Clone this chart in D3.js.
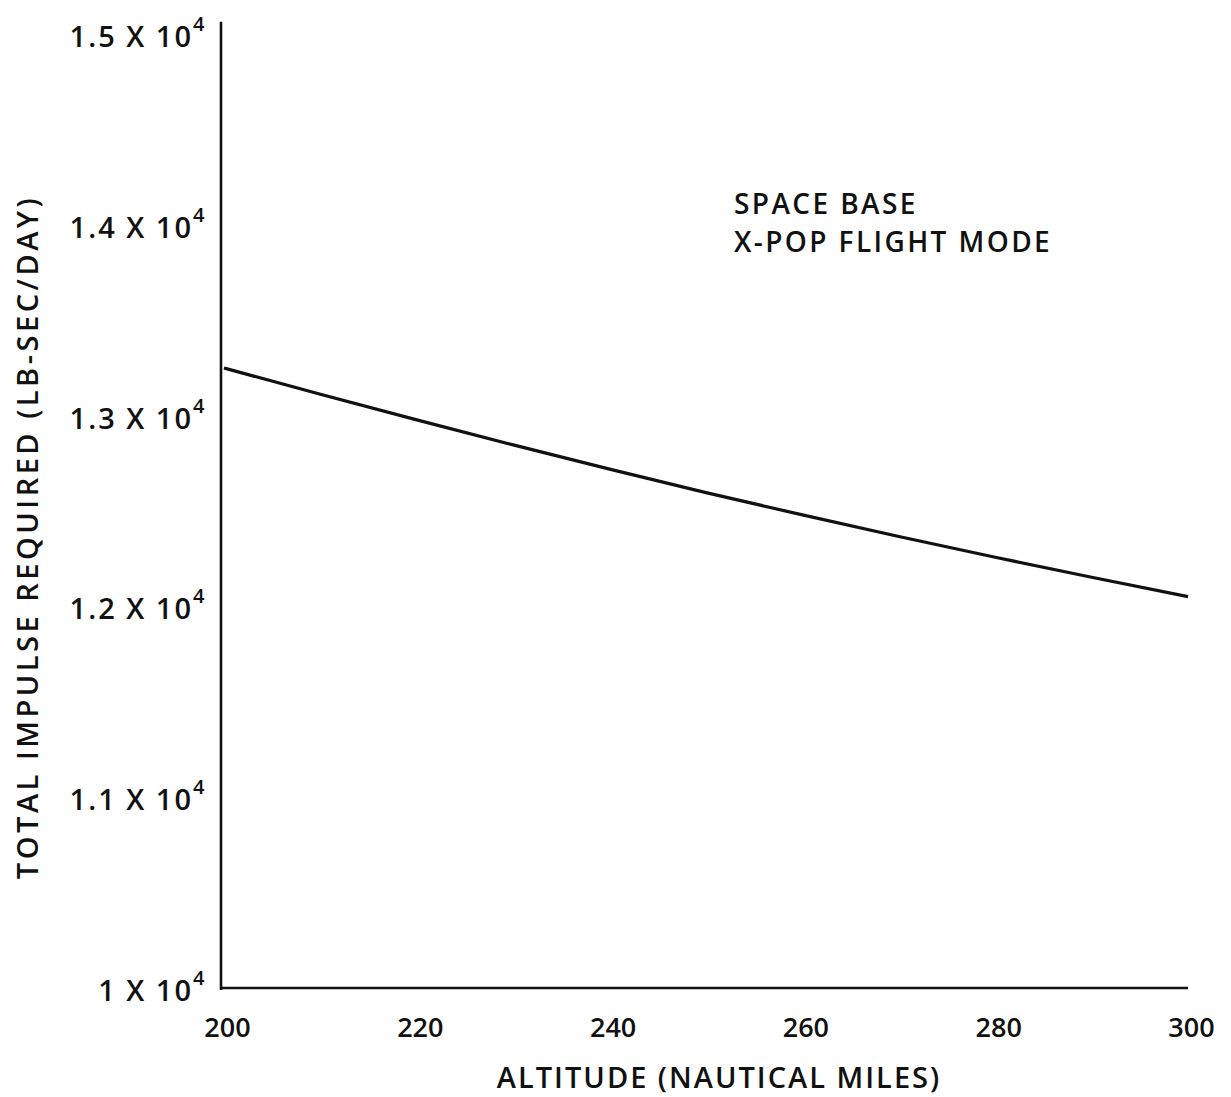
<!DOCTYPE html>
<html>
<head>
<meta charset="utf-8">
<script src="https://cdn.jsdelivr.net/npm/d3@7"></script>
<style>
  html, body { margin: 0; padding: 0; background: #fff; }
  svg { display: block; }
  text { font-family: "Open Sans", Lato, sans-serif; fill: #111; font-weight: 600; }
</style>
</head>
<body>
<svg id="chart" width="1231" height="1097"></svg>
<script>
// Altitude (nautical miles) and total impulse required (lb-sec/day)
const altitudes = [200, 210, 220, 230, 240, 250, 260, 270, 280, 290, 300];
const impulse   = [13260, 13122, 12988, 12857, 12730, 12607, 12490, 12377, 12268, 12163, 12062];

const xTicks = [200, 220, 240, 260, 280, 300];
const yTicks = [10000, 11000, 12000, 13000, 14000, 15000];
const yTickMantissa = ["1", "1.1", "1.2", "1.3", "1.4", "1.5"];
const yAxisTopValue = 15075;   // vertical axis rule runs a little past the top tick

const xTitle = "ALTITUDE (NAUTICAL MILES)";
const yTitle = "TOTAL IMPULSE REQUIRED (LB-SEC/DAY)";
const noteLines = ["SPACE BASE", "X-POP FLIGHT MODE"];

const svg = d3.select("#chart");

const x = d3.scaleLinear().domain([200, 300]).range([224, 1188]);
const y = d3.scaleLinear().domain([10000, 15000]).range([990, 36]);

// Axis rules
svg.append("line")
  .attr("x1", x(200) - 3).attr("x2", x(200) - 3)
  .attr("y1", y(yAxisTopValue)).attr("y2", y(10000))
  .attr("stroke", "#111").attr("stroke-width", 2.6);
svg.append("line")
  .attr("x1", x(200) - 3).attr("x2", x(300))
  .attr("y1", y(10000) - 2).attr("y2", y(10000) - 2)
  .attr("stroke", "#111").attr("stroke-width", 2.6);

// Bottom axis labels (no tick marks)
const xAxis = d3.axisBottom(x).tickValues(xTicks).tickSize(0).tickPadding(0).tickFormat(d3.format("d"));
const gx = svg.append("g").attr("transform", `translate(3,${y(10000)})`).call(xAxis);
gx.select(".domain").remove();
gx.selectAll("text")
  .attr("dy", null).attr("y", 47)
  .style("font-size", "27px")
  .style("font-weight", "600")
  .style("font-family", "'Open Sans', Lato, sans-serif")
  .attr("fill", "#111");

// Left axis labels in "m X 10^4" form
const gy = svg.append("g");
yTicks.forEach((v, i) => {
  gy.append("text")
    .attr("x", 193).attr("y", y(v) + 11)
    .attr("text-anchor", "end")
    .style("font-size", "29px")
    .style("letter-spacing", "2px")
    .text(yTickMantissa[i] + " X 10");
  gy.append("text")
    .attr("x", 193).attr("y", y(v) - 5)
    .style("font-size", "20px")
    .text("4");
});

// Impulse curve
const line = d3.line().x((d, i) => x(altitudes[i])).y(d => y(d)).curve(d3.curveMonotoneX);
svg.append("path")
  .datum(impulse)
  .attr("d", line)
  .attr("fill", "none")
  .attr("stroke", "#111")
  .attr("stroke-width", 3.2)
  .attr("stroke-linejoin", "round");

// Annotation
noteLines.forEach((s, i) => {
  svg.append("text")
    .attr("x", 734).attr("y", 214 + i * 38)
    .style("font-size", "28px")
    .style("letter-spacing", "2.4px")
    .text(s);
});

// Axis titles
svg.append("text")
  .attr("x", 719).attr("y", 1088)
  .attr("text-anchor", "middle")
  .style("font-size", "29px")
  .style("letter-spacing", "2px")
  .text(xTitle);

svg.append("text")
  .attr("transform", "translate(38,537) rotate(-90)")
  .attr("text-anchor", "middle")
  .style("font-size", "29px")
  .style("letter-spacing", "3.5px")
  .text(yTitle);
</script>
</body>
</html>
